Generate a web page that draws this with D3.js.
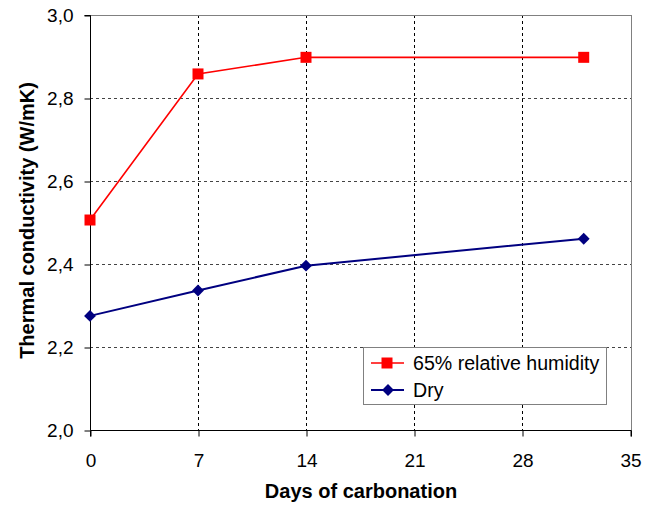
<!DOCTYPE html>
<html><head><meta charset="utf-8">
<script src="https://cdn.jsdelivr.net/npm/d3@7/dist/d3.min.js"></script>
<style>body{margin:0;background:#fff}svg{display:block}text{font-family:"Liberation Sans",Arial,sans-serif}</style>
</head><body><svg id="c" width="651" height="507"></svg>
<script>
const days = [0, 7, 14, 32];
const humid = [2.506, 2.858, 2.898, 2.898];
const dry = [2.275, 2.336, 2.396, 2.461];
const xTicks = [0, 7, 14, 21, 28, 35];
const yTicks = [2.0, 2.2, 2.4, 2.6, 2.8, 3.0];
const seriesNames = ["65% relative humidity", "Dry"];

const svg = d3.select("#c");
const L = 90, R = 631, T = 15, B = 430;
const FS = 19, FT = 20, FL = 19.6;
const x = d3.scaleLinear().domain([0, 35]).range([L, R - 1]);
const y = d3.scaleLinear().domain([2.0, 3.0]).range([B, T]);
const fmt = d => d.toFixed(1).replace(".", ",");

// gridlines
svg.append("g").selectAll("line").data(yTicks.slice(1, -1)).join("line")
  .attr("x1", L).attr("x2", R).attr("y1", d => Math.round(y(d)) + 0.5).attr("y2", d => Math.round(y(d)) + 0.5)
  .attr("stroke", "#444").attr("stroke-dasharray", "3,3").attr("stroke-width", 1);
svg.append("g").selectAll("line").data(xTicks.slice(1, -1)).join("line")
  .attr("y1", T).attr("y2", B).attr("x1", d => Math.round(x(d)) + 0.5).attr("x2", d => Math.round(x(d)) + 0.5)
  .attr("stroke", "#000").attr("stroke-dasharray", "3,3").attr("stroke-width", 1);

// frame top/right
svg.append("line").attr("x1", L).attr("x2", R).attr("y1", T + 0.5).attr("y2", T + 0.5).attr("stroke", "#808080");
svg.append("line").attr("x1", R + 0.5).attr("x2", R + 0.5).attr("y1", T).attr("y2", B).attr("stroke", "#808080");

// axes
const yAxis = d3.axisLeft(y).tickValues(yTicks).tickFormat(fmt).tickSize(6).tickPadding(11);
const gy = svg.append("g").attr("transform", `translate(${L + 0.5},0.5)`).call(yAxis);
const xAxis = d3.axisBottom(x).tickValues(xTicks).tickFormat(d3.format("d")).tickSize(6).tickPadding(17);
const gx = svg.append("g").attr("transform", `translate(0.5,${B + 0.5})`).call(xAxis);
[gx, gy].forEach(g => {
  g.select(".domain").attr("stroke", "#000");
  g.selectAll(".tick line").attr("stroke", "#000");
  g.selectAll("text").attr("font-size", FS).attr("fill", "#000").attr("font-family", '"Liberation Sans",Arial,sans-serif');
});
gy.select(".domain").attr("d", `M-6,${T}H0V${B}`);
gx.select(".domain").attr("d", `M${L},6V0H${R}V6`);

// axis titles
svg.append("text").attr("x", 361).attr("y", 498).attr("text-anchor", "middle")
  .attr("font-size", FT).attr("font-weight", "bold").text("Days of carbonation");
svg.append("text").attr("transform", `translate(34,${(T + B) / 2 - 2}) rotate(-90)`).attr("text-anchor", "middle")
  .attr("font-size", FT).attr("font-weight", "bold").text("Thermal conductivity (W/mK)");

// lines
const line = d3.line().x(d => x(d[0])).y(d => y(d[1]));
const humidPts = days.map((d, i) => [d, humid[i]]);
const dryPts = days.map((d, i) => [d, dry[i]]);
svg.append("path").attr("d", line(humidPts)).attr("fill", "none").attr("stroke", "#ff0000").attr("stroke-width", 1.6);
svg.append("path").attr("d", line(dryPts)).attr("fill", "none").attr("stroke", "#000080").attr("stroke-width", 2);
const sq = d3.symbol().type(d3.symbolSquare).size(121);
const dm = d3.symbol().type(d3.symbolDiamond2).size(90);
svg.append("g").selectAll("path").data(humidPts).join("path")
  .attr("d", sq).attr("transform", d => `translate(${x(d[0])},${y(d[1])})`).attr("fill", "#ff0000");
svg.append("g").selectAll("path").data(dryPts).join("path")
  .attr("d", dm).attr("transform", d => `translate(${x(d[0])},${y(d[1])})`).attr("fill", "#000080");

// legend
const lg = svg.append("g");
lg.append("rect").attr("x", 363.5).attr("y", 347.5).attr("width", 243).attr("height", 57)
  .attr("fill", "#fff").attr("stroke", "#808080");
const ly = [363, 390];
lg.append("line").attr("x1", 371).attr("x2", 404).attr("y1", ly[0]).attr("y2", ly[0]).attr("stroke", "#ff0000").attr("stroke-width", 1.6);
lg.append("path").attr("d", sq).attr("transform", `translate(387,${ly[0]})`).attr("fill", "#ff0000");
lg.append("line").attr("x1", 371).attr("x2", 404).attr("y1", ly[1]).attr("y2", ly[1]).attr("stroke", "#000080").attr("stroke-width", 2);
lg.append("path").attr("d", dm).attr("transform", `translate(388,${ly[1]})`).attr("fill", "#000080");
lg.selectAll("text").data(seriesNames).join("text")
  .attr("x", 413).attr("y", (d, i) => ly[i] + 7).attr("font-size", FL).text(d => d);
</script></body></html>
